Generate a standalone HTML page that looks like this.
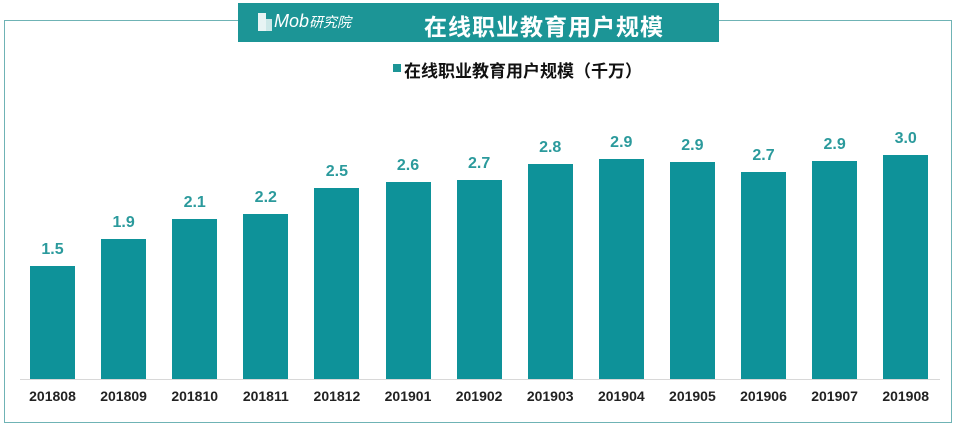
<!DOCTYPE html>
<html><head><meta charset="utf-8"><style>
body{margin:0;width:960px;height:429px;background:#fff;overflow:hidden;position:relative;font-family:"Liberation Sans","Noto Sans CJK SC",sans-serif}
.frame{position:absolute;left:4px;top:20px;width:948px;height:403px;border:1.5px solid #6fb3b5;box-sizing:border-box}
.title{position:absolute;left:238px;top:3px;width:481px;height:39px;background:#1c9596;color:#fff}
.bar{position:absolute;width:45px;background:#0e9299}
.v{position:absolute;width:71px;text-align:center;color:#2b9a9c;font-weight:bold;font-size:16px}
.c{position:absolute;width:71px;text-align:center;color:#222;font-weight:bold;font-size:14px;top:388px}
</style></head><body>
<div class="frame"></div>
<div class="title">
<div style="position:absolute;left:20px;top:10px;width:8px;height:18px;background:#e8f4f4"></div>
<div style="position:absolute;left:28px;top:16px;width:6px;height:12px;background:#cde8e8"></div>
<div style="position:absolute;left:36px;top:8px;font-size:18px;font-style:italic;color:#fff">Mob<span style="font-size:14px">研究院</span></div>
<div style="position:absolute;left:186px;top:5px;font-size:23px;font-weight:bold;letter-spacing:1px">在线职业教育用户规模</div>
</div>
<div style="position:absolute;left:393px;top:64px;width:8px;height:8px;background:#1c9596"></div>
<div style="position:absolute;left:404px;top:57px;font-size:17px;font-weight:bold;color:#111">在线职业教育用户规模（千万）</div>
<div style="position:absolute;left:20px;top:379px;width:920px;height:1px;background:#d8d8d8"></div>
<div id="g"></div>
<script>
var v=["1.5","1.9","2.1","2.2","2.5","2.6","2.7","2.8","2.9","2.9","2.7","2.9","3.0"];
var t=[266,239,219,214,188,182,180,164,159,162,172,161,155];
var c=["201808","201809","201810","201811","201812","201901","201902","201903","201904","201905","201906","201907","201908"];
var h="";
for(var i=0;i<13;i++){var x=30+i*71.1;
h+='<div class="bar" style="left:'+x+'px;top:'+t[i]+'px;height:'+(379-t[i])+'px"></div>';
h+='<div class="v" style="left:'+(x-13)+'px;top:'+(t[i]-25)+'px">'+v[i]+'</div>';
h+='<div class="c" style="left:'+(x-13)+'px">'+c[i]+'</div>';}
document.getElementById("g").innerHTML=h;
</script>
</body></html>
